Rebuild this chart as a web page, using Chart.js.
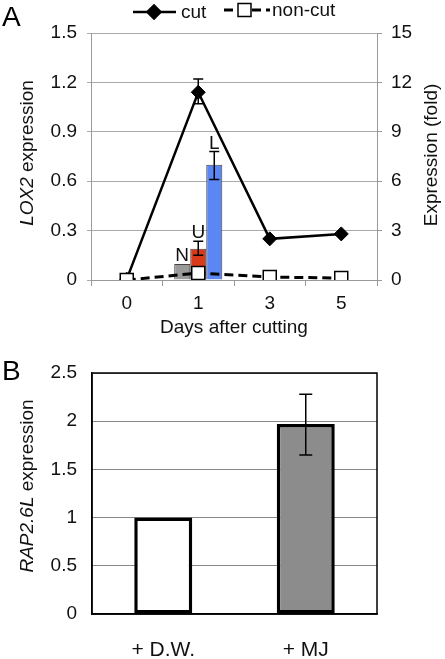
<!DOCTYPE html>
<html><head><meta charset="utf-8">
<script src="https://cdn.jsdelivr.net/npm/chart.js@4/dist/chart.umd.min.js"></script>
<style>
html,body{margin:0;padding:0;background:#fff;}
#wrap{position:relative;width:445px;height:659px;overflow:hidden;}
#c1wrap{position:absolute;left:0;top:0;width:445px;height:345px;}
#c2wrap{position:absolute;left:0;top:345px;width:445px;height:314px;}
canvas{display:block;}
</style></head><body>
<div id="wrap"><div id="c1wrap"><canvas id="c1" width="445" height="345"></canvas></div><div id="c2wrap"><canvas id="c2" width="445" height="314"></canvas></div></div>
<script>
const FONT = "'Liberation Sans', Arial, Helvetica, sans-serif";

// ---- Panel A data ----
const days = ['0', '1', '3', '5'];
const cutFold = [0.05, 11.4, 2.5, 2.8];
const cutErrLow = [null, 10.7, null, null];
const cutErrHigh = [null, 12.2, null, null];
const nonCutFold = [0, 0.42, 0.18, 0.12];
const tissues = ['N', 'U', 'L'];
const tissueLOX2 = [0.097, 0.19, 0.70];
const tissueErrLow = [null, 0.15, 0.61];
const tissueErrHigh = [null, 0.236, 0.78];
const tissueDay = '1';
const tissueColors = ['#9a9a9a', '#d93a1a', '#5b87f5'];

// ---- Panel B data ----
const treatments = ['+ D.W.', '+ MJ'];
const rap26l = [1.0, 1.97];
const rapErrLow = [null, 1.65];
const rapErrHigh = [null, 2.28];
const rapColors = ['#ffffff', '#8c8c8c'];

Chart.defaults.font.family = FONT;
Chart.defaults.color = '#111';

// error bars + bar labels
const errorBarPlugin = {
  id: 'errorBars',
  afterDatasetsDraw(chart) {
    const ctx = chart.ctx;
    chart.data.datasets.forEach((ds, di) => {
      if (!ds.errLow && !ds.barLabel) return;
      const meta = chart.getDatasetMeta(di);
      const yScale = chart.scales[meta.yAxisID];
      meta.data.forEach((el, i) => {
        const v = ds.data[i];
        if (v === null || v === undefined) return;
        let topY = el.y;
        if (ds.errLow && ds.errLow[i] != null) {
          const yl = yScale.getPixelForValue(ds.errLow[i]);
          const yh = yScale.getPixelForValue(ds.errHigh[i]);
          const cap = ds.capHalf || 5;
          ctx.save();
          ctx.strokeStyle = '#000';
          ctx.lineWidth = 1.5;
          ctx.beginPath();
          ctx.moveTo(el.x, yl); ctx.lineTo(el.x, yh);
          ctx.moveTo(el.x - cap, yl); ctx.lineTo(el.x + cap, yl);
          ctx.moveTo(el.x - cap, yh); ctx.lineTo(el.x + cap, yh);
          ctx.stroke();
          ctx.restore();
          topY = Math.min(topY, yh);
        }
        if (ds.barLabel) {
          ctx.save();
          ctx.fillStyle = '#111';
          ctx.font = '19px ' + FONT;
          ctx.textAlign = 'center';
          ctx.textBaseline = 'alphabetic';
          ctx.fillText(ds.barLabel, el.x, topY - 3);
          ctx.restore();
        }
      });
    });
  }
};

// rotated y titles with mixed italic
const yTitlesPlugin = {
  id: 'yTitles',
  afterDraw(chart, args, opts) {
    const ctx = chart.ctx;
    const ca = chart.chartArea;
    (opts.items || []).forEach(it => {
      ctx.save();
      const cy = (it.cy != null) ? it.cy : (ca.top + ca.bottom) / 2;
      ctx.translate(it.x, cy);
      ctx.rotate(-Math.PI / 2);
      ctx.fillStyle = '#111';
      ctx.textBaseline = 'middle';
      ctx.textAlign = 'left';
      let total = 0;
      const widths = it.parts.map(p => {
        ctx.font = (p[1] ? 'italic ' : '') + it.size + 'px ' + FONT;
        const w = ctx.measureText(p[0]).width;
        total += w;
        return w;
      });
      let x = -total / 2;
      it.parts.forEach((p, k) => {
        ctx.font = (p[1] ? 'italic ' : '') + it.size + 'px ' + FONT;
        ctx.fillText(p[0], x, 0);
        x += widths[k];
      });
      ctx.restore();
    });
  }
};

// panel letter
const panelLetterPlugin = {
  id: 'panelLetter',
  afterDraw(chart, args, opts) {
    if (!opts.text) return;
    const ctx = chart.ctx;
    ctx.save();
    ctx.fillStyle = '#000';
    ctx.font = '28px ' + FONT;
    ctx.textBaseline = 'alphabetic';
    ctx.textAlign = 'left';
    ctx.fillText(opts.text, opts.x, opts.y);
    ctx.restore();
  }
};

// line+marker legend
const lineLegendPlugin = {
  id: 'lineLegend',
  afterDraw(chart, args, opts) {
    if (!opts.items) return;
    const ctx = chart.ctx;
    opts.items.forEach(it => {
      const ds = chart.data.datasets[it.dataset];
      ctx.save();
      ctx.strokeStyle = ds.borderColor;
      ctx.lineWidth = ds.borderWidth;
      ctx.setLineDash(ds.borderDash || []);
      ctx.beginPath();
      ctx.moveTo(it.x0, it.y); ctx.lineTo(it.x1, it.y);
      ctx.stroke();
      ctx.setLineDash([]);
      Chart.helpers.drawPoint(ctx, {
        pointStyle: ds.pointStyle, radius: it.r, borderWidth: ds.pointBorderWidth, rotation: 0
      }, it.xm, it.y);
      ctx.fillStyle = ds.pointBackgroundColor;
      ctx.strokeStyle = ds.pointBorderColor;
      ctx.lineWidth = ds.pointBorderWidth;
      ctx.beginPath();
      if (ds.pointStyle === 'rect') {
        ctx.rect(it.xm - it.r, it.y - it.r, 2 * it.r, 2 * it.r);
      } else {
        ctx.moveTo(it.xm - it.r, it.y); ctx.lineTo(it.xm, it.y - it.r);
        ctx.lineTo(it.xm + it.r, it.y); ctx.lineTo(it.xm, it.y + it.r);
        ctx.closePath();
      }
      ctx.fill(); ctx.stroke();
      ctx.fillStyle = '#111';
      ctx.font = '19px ' + FONT;
      ctx.textBaseline = 'middle';
      ctx.textAlign = 'left';
      ctx.fillText(ds.label, it.tx, it.y + 1);
      ctx.restore();
    });
  }
};

const frameCfgPlugin = {
  id: 'frame',
  afterDraw(chart, args, opts) {
    if (!opts.draw) return;
    const ca = chart.chartArea, ctx = chart.ctx;
    ctx.save();
    ctx.strokeStyle = '#000';
    ctx.lineWidth = 1.5;
    ctx.strokeRect(ca.left, ca.top, ca.right - ca.left, ca.bottom - ca.top);
    ctx.restore();
  }
};

const fmt1 = v => String(Number(v.toFixed(1)));

// ---------- Panel A ----------
const barSets = tissues.map((t, i) => ({
  type: 'bar',
  label: t,
  barLabel: t,
  data: days.map(d => d === tissueDay ? tissueLOX2[i] : null),
  errLow: days.map(d => d === tissueDay ? tissueErrLow[i] : null),
  errHigh: days.map(d => d === tissueDay ? tissueErrHigh[i] : null),
  capHalf: 5,
  backgroundColor: tissueColors[i],
  borderColor: '#444',
  borderWidth: 1,
  borderSkipped: 'bottom',
  yAxisID: 'y',
  categoryPercentage: 0.672,
  barPercentage: 1,
  order: 3
}));

new Chart(document.getElementById('c1'), {
  data: {
    labels: days,
    datasets: [
      {
        type: 'line', label: 'non-cut', data: nonCutFold, yAxisID: 'y2',
        borderColor: '#000', borderWidth: 3, borderDash: [9, 5],
        pointStyle: 'rect', pointRadius: 9.2, pointHoverRadius: 9.2,
        pointBackgroundColor: '#fff', pointBorderColor: '#000', pointBorderWidth: 1.5,
        tension: 0, order: 0
      },
      {
        type: 'line', label: 'cut', data: cutFold, yAxisID: 'y2',
        errLow: cutErrLow, errHigh: cutErrHigh, capHalf: 5,
        borderColor: '#000', borderWidth: 2.5,
        pointStyle: 'rectRot', pointRadius: 7, pointHoverRadius: 7,
        pointBackgroundColor: '#000', pointBorderColor: '#000', pointBorderWidth: 1,
        tension: 0, order: 1
      },
      ...barSets
    ]
  },
  options: {
    responsive: false,
    animation: false,
    layout: { padding: { top: 33, left: 0, right: 0, bottom: 0 } },
    plugins: {
      legend: { display: false },
      tooltip: { enabled: false },
      yTitles: { items: [
        { x: 28, cy: 153, size: 19, parts: [['LOX2', true], [' expression', false]] },
        { x: 432, cy: 155, size: 19, parts: [['Expression (fold)', false]] }
      ] },
      panelLetter: { text: 'A', x: 2, y: 26 },
      lineLegend: { items: [
        { dataset: 1, x0: 133, x1: 176, xm: 154, y: 12, r: 6.5, tx: 181 },
        { dataset: 0, x0: 224, x1: 270, xm: 244.5, y: 10, r: 6.5, tx: 272 }
      ] },
      frame: { draw: false }
    },
    scales: {
      x: {
        type: 'category', offset: true,
        grid: { offset: true, drawOnChartArea: false, drawTicks: true, tickLength: 6, color: '#999', lineWidth: 1 },
        border: { color: '#999', width: 1 },
        ticks: { font: { size: 19 }, padding: 6, color: '#111' },
        title: { display: true, text: 'Days after cutting', font: { size: 19 }, color: '#111', padding: { top: 0, bottom: 6 } },
        afterFit: s => { s.height = 65; }
      },
      y: {
        position: 'left', min: 0, max: 1.5,
        ticks: { stepSize: 0.3, font: { size: 19 }, padding: 10, color: '#111', callback: v => fmt1(v) },
        grid: { color: '#aaa', lineWidth: 1, tickLength: 4 },
        border: { color: '#999', width: 1 },
        afterFit: s => { s.width = 91; }
      },
      y2: {
        position: 'right', min: 0, max: 15,
        ticks: { stepSize: 3, font: { size: 19 }, padding: 9, color: '#111' },
        grid: { drawOnChartArea: false, color: '#999', tickLength: 5 },
        border: { color: '#999', width: 1 },
        afterFit: s => { s.width = 68; }
      }
    }
  },
  plugins: [errorBarPlugin, yTitlesPlugin, panelLetterPlugin, lineLegendPlugin, frameCfgPlugin]
});

// ---------- Panel B ----------
new Chart(document.getElementById('c2'), {
  type: 'bar',
  data: {
    labels: treatments,
    datasets: [{
      label: 'RAP2.6L',
      data: rap26l,
      errLow: rapErrLow, errHigh: rapErrHigh, capHalf: 6.5,
      backgroundColor: rapColors,
      borderColor: '#000',
      borderWidth: 3.5,
      borderSkipped: false,
      categoryPercentage: 1,
      barPercentage: 0.407
    }]
  },
  options: {
    responsive: false,
    animation: false,
    layout: { padding: { top: 28, left: 0, right: 68, bottom: 0 } },
    plugins: {
      legend: { display: false },
      tooltip: { enabled: false },
      yTitles: { items: [
        { x: 28, cy: 141, size: 19, parts: [['RAP2.6L', true], [' expression', false]] }
      ] },
      panelLetter: { text: 'B', x: 2, y: 35 },
      frame: { draw: true }
    },
    scales: {
      x: {
        grid: { display: false, drawTicks: false },
        border: { color: '#000', width: 1.5 },
        ticks: { font: { size: 21 }, padding: 24, color: '#111' },
        afterFit: s => { s.height = 45; }
      },
      y: {
        min: 0, max: 2.5,
        ticks: { stepSize: 0.5, font: { size: 19 }, padding: 15, color: '#111', callback: v => fmt1(v) },
        grid: { color: '#888', lineWidth: 1, drawTicks: false },
        border: { color: '#000', width: 1.5 },
        afterFit: s => { s.width = 92; }
      }
    }
  },
  plugins: [errorBarPlugin, yTitlesPlugin, panelLetterPlugin, frameCfgPlugin]
});
</script>
</body></html>
